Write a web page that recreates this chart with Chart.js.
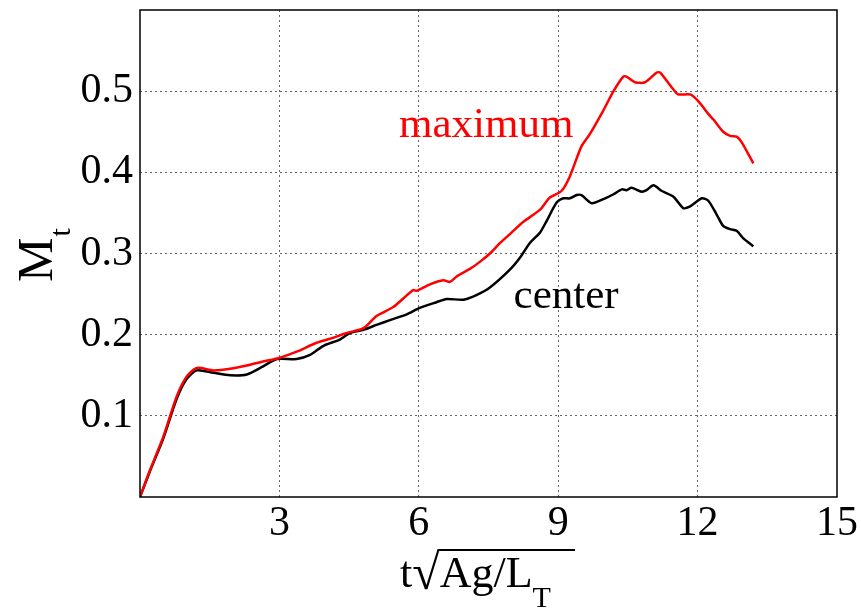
<!DOCTYPE html>
<html>
<head>
<meta charset="utf-8">
<script src="https://cdn.jsdelivr.net/npm/chart.js@4/dist/chart.umd.min.js"></script>
<style>
  html, body { margin: 0; padding: 0; background: #fff; }
  #wrap { width: 861px; height: 608px; }
</style>
</head>
<body>
<div id="wrap"><canvas id="chart" width="861" height="608"></canvas></div>
<script>
// ===== DATA =====
const maxX = [0, 0.215, 0.5, 0.79, 1.0, 1.22, 1.58, 1.94, 2.30, 2.65, 2.98, 3.37, 3.80, 4.09, 4.45, 4.81, 5.09, 5.45, 5.88, 5.95,
  6.24, 6.53, 6.67, 6.82, 7.10, 7.32, 7.53, 7.75, 8.0, 8.25, 8.61, 8.82, 9.07, 9.25, 9.50, 9.68, 9.97, 10.19, 10.40, 10.47,
  10.65, 10.87, 11.12, 11.19, 11.48, 11.58, 11.84, 12.01, 12.23, 12.34, 12.55, 12.70, 12.84, 12.95, 13.20];
const maxY = [0, 0.033, 0.074, 0.124, 0.148, 0.159, 0.156, 0.158, 0.162, 0.167, 0.171, 0.179, 0.190, 0.195, 0.202, 0.208, 0.223, 0.234, 0.255, 0.254,
  0.262, 0.267, 0.265, 0.272, 0.281, 0.290, 0.300, 0.313, 0.326, 0.339, 0.354, 0.369, 0.377, 0.395, 0.432, 0.447, 0.476, 0.500, 0.518, 0.518,
  0.511, 0.511, 0.523, 0.523, 0.502, 0.496, 0.496, 0.488, 0.472, 0.465, 0.450, 0.445, 0.444, 0.437, 0.411];

const centerX = [0, 0.215, 0.5, 0.79, 1.0, 1.22, 1.58, 1.94, 2.30, 2.65, 2.95, 3.37, 3.66, 3.94, 4.30, 4.52, 4.81, 5.09, 5.38, 5.74,
  6.02, 6.38, 6.60, 6.96, 7.25, 7.53, 7.96, 8.18, 8.39, 8.61, 8.75, 8.97, 9.11, 9.25, 9.40, 9.50, 9.72, 10.01, 10.19, 10.37,
  10.47, 10.58, 10.80, 10.90, 11.05, 11.23, 11.48, 11.69, 11.84, 12.09, 12.23, 12.41, 12.55, 12.70, 12.84, 12.98, 13.20];
const centerY = [0, 0.032, 0.072, 0.121, 0.145, 0.156, 0.153, 0.150, 0.151, 0.161, 0.170, 0.170, 0.175, 0.186, 0.194, 0.202, 0.206, 0.212, 0.218, 0.225,
  0.233, 0.240, 0.244, 0.243, 0.249, 0.258, 0.280, 0.295, 0.313, 0.326, 0.340, 0.363, 0.368, 0.368, 0.372, 0.372, 0.362, 0.368, 0.373, 0.379,
  0.378, 0.381, 0.376, 0.378, 0.384, 0.377, 0.370, 0.356, 0.358, 0.368, 0.365, 0.348, 0.334, 0.330, 0.328, 0.319, 0.309];

const xTicks = [3, 6, 9, 12, 15];
const yTicks = [0.1, 0.2, 0.3, 0.4, 0.5];

// where the curve names sit (data coords)
const seriesLabels = [
  { text: "maximum", x: 7.45, y: 0.444, color: "#ff0000" },
  { text: "center",  x: 9.17, y: 0.233, color: "#000000" },
];

const SERIF = '"Liberation Serif", "DejaVu Serif", serif';
const toPts = (xs, ys) => xs.map((v, i) => ({ x: v, y: ys[i] }));

// ===== FRAME + TEXT PLUGIN =====
const overlayPlugin = {
  id: "overlay",
  afterDraw(chart) {
    const { ctx, chartArea: a, scales } = chart;
    ctx.save();

    // box round the plot
    ctx.strokeStyle = "#000";
    ctx.lineWidth = 1.5;
    ctx.strokeRect(a.left, a.top, a.right - a.left, a.bottom - a.top);

    // curve names
    ctx.font = "43px " + SERIF;
    ctx.textAlign = "center";
    ctx.textBaseline = "alphabetic";
    seriesLabels.forEach(l => {
      ctx.fillStyle = l.color;
      ctx.fillText(l.text, scales.x.getPixelForValue(l.x), scales.y.getPixelForValue(l.y));
    });

    // x title: t sqrt(Ag/L_T)
    ctx.fillStyle = "#000";
    ctx.textAlign = "left";
    ctx.font = "44px " + SERIF;
    let cx = 400;
    const base = 587;
    ctx.fillText("t", cx, base);
    cx += ctx.measureText("t").width;
    ctx.font = "50px " + SERIF;
    const rm = ctx.measureText("\u221A");
    ctx.fillText("\u221A", cx, base + 2);
    const barY = base + 2 - rm.actualBoundingBoxAscent + 1;
    cx += rm.width;
    const barStart = cx - 2;
    ctx.font = "44px " + SERIF;
    ctx.fillText("Ag/L", cx, base);
    cx += ctx.measureText("Ag/L").width;
    ctx.font = "30px " + SERIF;
    ctx.fillText("T", cx, base + 20);
    ctx.lineWidth = 2;
    ctx.beginPath();
    ctx.moveTo(barStart, barY);
    ctx.lineTo(575, barY);
    ctx.stroke();

    // y title: M_t
    ctx.translate(52, 282);
    ctx.rotate(-Math.PI / 2);
    ctx.font = "50px " + SERIF;
    ctx.fillText("M", 0, 0);
    const mw = ctx.measureText("M").width;
    ctx.font = "30px " + SERIF;
    ctx.fillText("t", mw + 1, 18);

    ctx.restore();
  },
};

// ===== CHART =====
const gridColor = ctx => {
  const v = ctx.tick && ctx.tick.value;
  return (v === 0 || v === 15) ? "rgba(0,0,0,0)" : "#666";
};
const noPad = s => { s.paddingTop = 0; s.paddingBottom = 0; s.paddingLeft = 0; s.paddingRight = 0; };

new Chart(document.getElementById("chart"), {
  type: "line",
  data: {
    datasets: [
      { label: "maximum", data: toPts(maxX, maxY), borderColor: "#ff0000", borderWidth: 2.5, pointRadius: 0, tension: 0.25, fill: false },
      { label: "center",  data: toPts(centerX, centerY), borderColor: "#000000", borderWidth: 2.5, pointRadius: 0, tension: 0.25, fill: false },
    ],
  },
  options: {
    responsive: false,
    animation: false,
    layout: { padding: { top: 10, right: 24, left: 0, bottom: 0 } },
    plugins: { legend: { display: false }, tooltip: { enabled: false } },
    scales: {
      x: {
        type: "linear", min: 0, max: 15,
        afterBuildTicks: s => { s.ticks = [0, ...xTicks].map(v => ({ value: v })); },
        afterFit: s => { s.height = 111; noPad(s); },
        border: { display: false, dash: [2, 3] },
        grid: { color: gridColor, lineWidth: 1, drawTicks: false },
        ticks: { padding: 2, color: "#000", font: { family: SERIF, size: 42 }, maxRotation: 0,
                 callback: v => xTicks.includes(v) ? String(v) : "" },
      },
      y: {
        type: "linear", min: 0, max: 0.6,
        afterBuildTicks: s => { s.ticks = [0, ...yTicks].map(v => ({ value: v })); },
        afterFit: s => { s.width = 140; noPad(s); },
        border: { display: false, dash: [2, 3] },
        grid: { color: gridColor, lineWidth: 1, drawTicks: false },
        ticks: { padding: 7, color: "#000", font: { family: SERIF, size: 42 },
                 callback: v => yTicks.some(t => Math.abs(t - v) < 1e-6) ? v.toFixed(1) : "" },
      },
    },
  },
  plugins: [overlayPlugin],
});
</script>
</body>
</html>
